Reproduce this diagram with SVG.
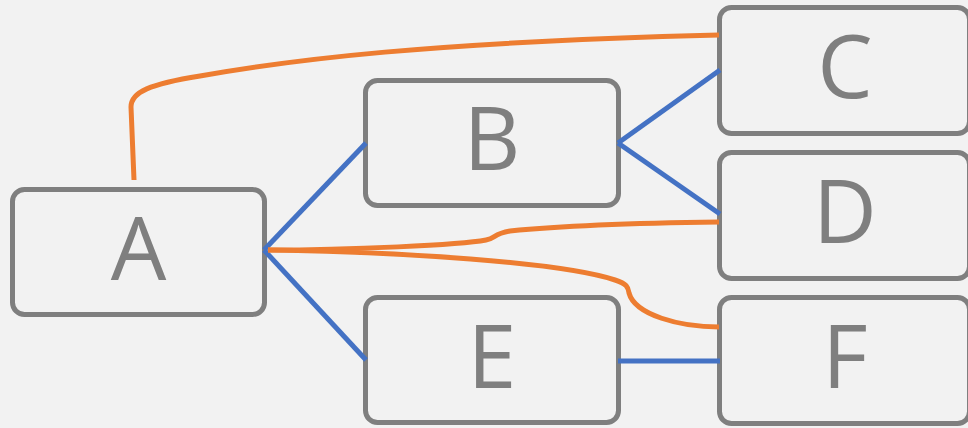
<svg xmlns="http://www.w3.org/2000/svg" width="968" height="428" viewBox="0 0 968 428">
  <style>
    .box { fill: #f2f2f2; stroke: #7f7f7f; stroke-width: 5; }
    .lbl { font-family: "Open Sans", "Liberation Sans", sans-serif; font-size: 88px; fill: #7f7f7f; text-anchor: middle; }
    .blue { fill: none; stroke: #4472c4; stroke-width: 5; }
    .orange { fill: none; stroke: #ed7d31; stroke-width: 5; }
  </style>
  <rect width="968" height="428" fill="#f2f2f2"/>

  <g id="node-A">
    <rect class="box" x="12.5" y="189.5" width="252" height="125" rx="12"/>
    <text class="lbl" x="138.5" y="280">A</text>
  </g>
  <g id="node-B">
    <rect class="box" x="365.5" y="80.5" width="253" height="125" rx="12"/>
    <text class="lbl" x="492" y="170">B</text>
  </g>
  <g id="node-C">
    <rect class="box" x="719.5" y="7.5" width="250" height="126" rx="12"/>
    <text class="lbl" x="845" y="98">C</text>
  </g>
  <g id="node-D">
    <rect class="box" x="719.5" y="152.5" width="250" height="126" rx="12"/>
    <text class="lbl" x="845" y="243">D</text>
  </g>
  <g id="node-E">
    <rect class="box" x="365.5" y="297.5" width="253" height="125" rx="12"/>
    <text class="lbl" x="492" y="388">E</text>
  </g>
  <g id="node-F">
    <rect class="box" x="719.5" y="297.5" width="250" height="126" rx="12"/>
    <text class="lbl" x="845" y="388">F</text>
  </g>

  <g id="connectors">
    <!-- tree links -->
    <path class="blue" d="M264,250 L366,143"/>
    <path class="blue" d="M264,250 L366,360"/>
    <path class="blue" d="M618,143 L720,70"/>
    <path class="blue" d="M618,143 L720,214"/>
    <path class="blue" d="M618,361 L720,361"/>
    <!-- cross links -->
    <path class="orange" d="M134,180 L131,107 C131,92 150,84 200,76 C290,60 430,42 719,35"/>
    <path class="orange" d="M268,250 C350,250 460,245 486,240 C496,238 493,234 510,231 C560,226 640,223 719,222"/>
    <path class="orange" d="M268,250 C400,252 560,262 615,280 C628,284 628,288 629,293 C635,315 680,327 719,327"/>
  </g>
</svg>
